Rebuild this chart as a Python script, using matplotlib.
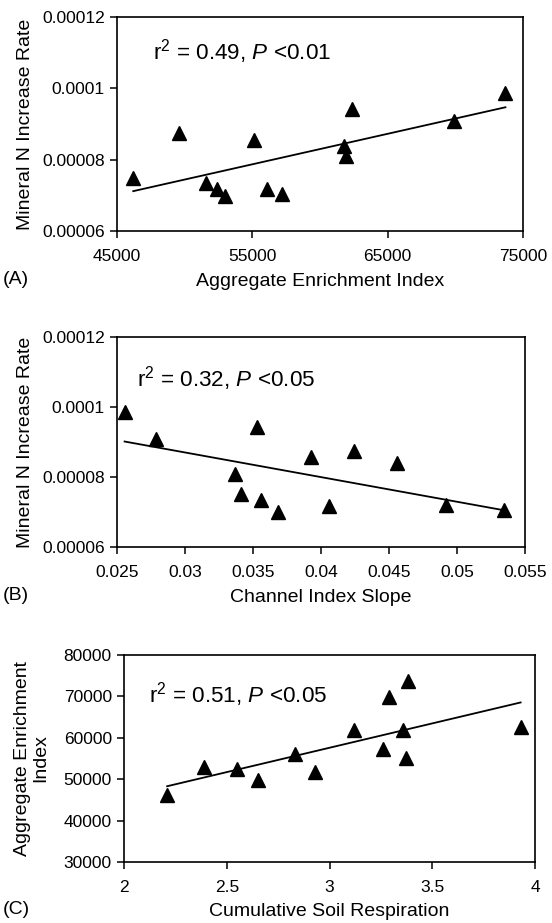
import numpy as np
import matplotlib as mpl
import matplotlib.pyplot as plt

mpl.rcParams['font.family'] = ['Liberation Sans', 'DejaVu Sans']
mpl.rcParams['mathtext.fontset'] = 'custom'
mpl.rcParams['mathtext.rm'] = 'Liberation Sans'
mpl.rcParams['mathtext.it'] = 'Liberation Sans:italic'

# (A) aggregate enrichment index vs mineral N increase rate
agg_a = [46200, 49600, 51600, 52400, 53000, 55100, 56100, 57200, 61800, 61900, 62400, 69900, 73700]
minN_a = [0.0000750, 0.0000875, 0.0000734, 0.0000718, 0.0000699, 0.0000854, 0.0000719,
          0.0000705, 0.0000838, 0.0000809, 0.0000943, 0.0000908, 0.0000986]

# (B) channel index slope vs mineral N increase rate
slope_b = [0.02556, 0.02789, 0.03364, 0.03414, 0.03529, 0.03558, 0.03683, 0.03923,
           0.04058, 0.04246, 0.04557, 0.04917, 0.05348]
minN_b = [0.0000986, 0.0000908, 0.0000809, 0.0000751, 0.0000942, 0.0000735, 0.0000699,
          0.0000856, 0.0000716, 0.0000875, 0.0000839, 0.0000719, 0.0000706]

# (C) cumulative soil respiration vs aggregate enrichment index
resp_c = [2.21, 2.39, 2.55, 2.65, 2.83, 2.93, 3.12, 3.26, 3.29, 3.36, 3.37, 3.38, 3.93]
agg_c = [46300, 53000, 52400, 49700, 56100, 51800, 61900, 57400, 69900, 61900, 55200, 73800, 62500]

minN_ticks = [0.00006, 0.00008, 0.0001, 0.00012]
minN_labels = ['0.00006', '0.00008', '0.0001', '0.00012']
agg_ticks_a = [45000, 55000, 65000, 75000]
slope_ticks = [0.025, 0.03, 0.035, 0.04, 0.045, 0.05, 0.055]
slope_labels = ['0.025', '0.03', '0.035', '0.04', '0.045', '0.05', '0.055']
resp_ticks = [2, 2.5, 3, 3.5, 4]
resp_labels = ['2', '2.5', '3', '3.5', '4']
agg_ticks_c = [30000, 40000, 50000, 60000, 70000, 80000]

stats = ['r$^2$ = 0.49, $P$ <0.01', 'r$^2$ = 0.32, $P$ <0.05', 'r$^2$ = 0.51, $P$ <0.05']

W, H = 552, 923
fig = plt.figure(figsize=(W / 100, H / 100), dpi=100)

def px_axes(left, top, right, bottom):
    return fig.add_axes([left / W, 1 - bottom / H, (right - left) / W, (bottom - top) / H])

def style(ax):
    for s in ax.spines.values():
        s.set_linewidth(1.2)
    ax.tick_params(axis='both', direction='out', length=4.8, width=1.1, labelsize=12.5)
    ax.tick_params(axis='x', pad=8)
    ax.tick_params(axis='y', pad=4)

def scatter_fit(ax, x, y):
    x = np.asarray(x)
    y = np.asarray(y)
    ax.plot(x, y, '^', color='black', markersize=9.5)
    m, b = np.polyfit(x, y, 1)
    xs = np.array([x.min(), x.max()])
    ax.plot(xs, m * xs + b, color='black', linewidth=1.3)

# panel A
ax1 = px_axes(117, 17, 523, 231)
scatter_fit(ax1, agg_a, minN_a)
ax1.set_xlim(45000, 75000)
ax1.set_ylim(0.00006, 0.00012)
ax1.set_xticks(agg_ticks_a)
ax1.set_xticklabels([str(t) for t in agg_ticks_a])
ax1.set_yticks(minN_ticks)
ax1.set_yticklabels(minN_labels)
ax1.set_xlabel('Aggregate Enrichment Index', fontsize=14, labelpad=7)
ax1.set_ylabel('Mineral N Increase Rate', fontsize=14, labelpad=6)
ax1.text(0.089, 0.84, stats[0], transform=ax1.transAxes, fontsize=16.2, va='center')
style(ax1)

# panel B
ax2 = px_axes(117, 337, 525, 547)
scatter_fit(ax2, slope_b, minN_b)
ax2.set_xlim(0.025, 0.055)
ax2.set_ylim(0.00006, 0.00012)
ax2.set_xticks(slope_ticks)
ax2.set_xticklabels(slope_labels)
ax2.set_yticks(minN_ticks)
ax2.set_yticklabels(minN_labels)
ax2.set_xlabel('Channel Index Slope', fontsize=14, labelpad=7)
ax2.set_ylabel('Mineral N Increase Rate', fontsize=14, labelpad=6)
ax2.text(0.049, 0.80, stats[1], transform=ax2.transAxes, fontsize=16.2, va='center')
style(ax2)

# panel C
ax3 = px_axes(124, 655, 535, 862)
scatter_fit(ax3, resp_c, agg_c)
ax3.set_xlim(2, 4)
ax3.set_ylim(30000, 80000)
ax3.set_xticks(resp_ticks)
ax3.set_xticklabels(resp_labels)
ax3.set_yticks(agg_ticks_c)
ax3.set_yticklabels([str(t) for t in agg_ticks_c])
ax3.set_xlabel('Cumulative Soil Respiration', fontsize=14, labelpad=6)
ax3.set_ylabel('Aggregate Enrichment\nIndex', fontsize=14, labelpad=10, linespacing=1.1)
ax3.text(0.061, 0.807, stats[2], transform=ax3.transAxes, fontsize=16.2, va='center')
style(ax3)

for lab, ypx in [('(A)', 279), ('(B)', 595), ('(C)', 909)]:
    fig.text(3 / W, 1 - ypx / H, lab, fontsize=14, va='center', ha='left')

fig.savefig('out.png', dpi=100)
